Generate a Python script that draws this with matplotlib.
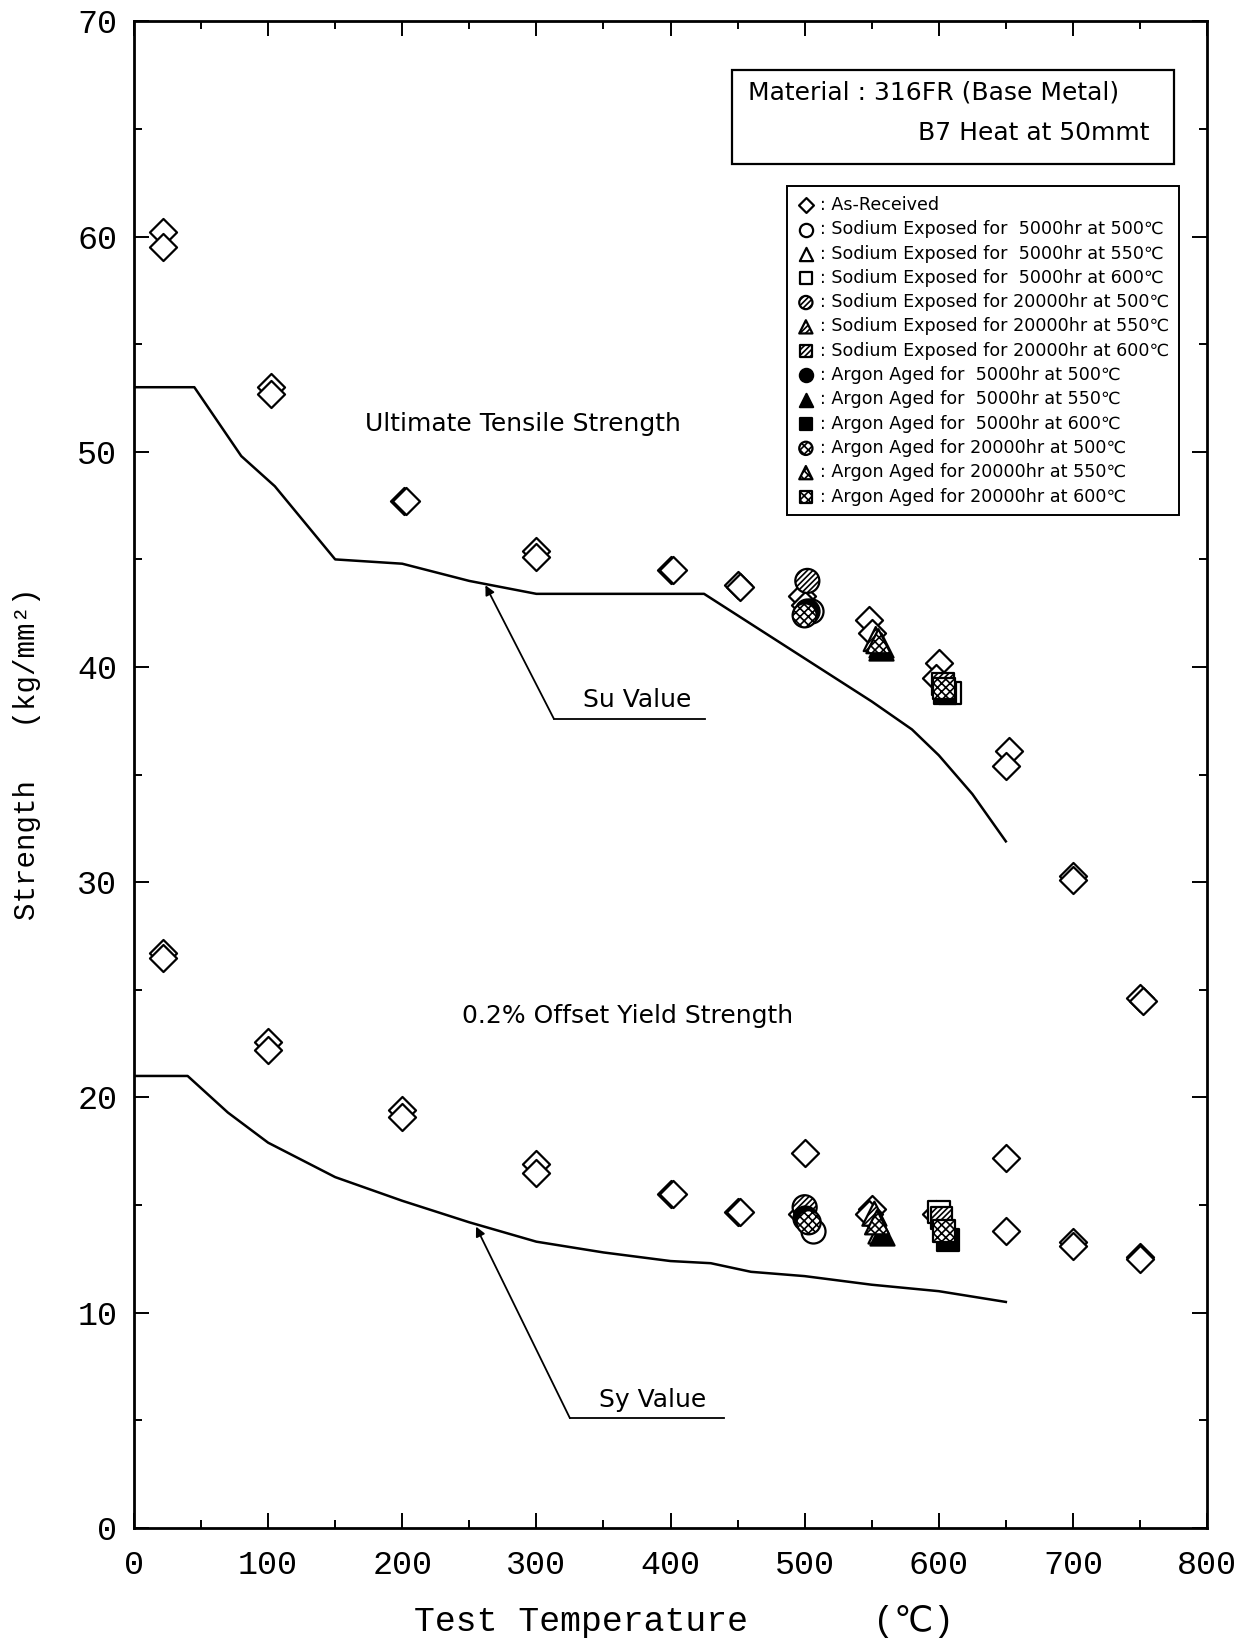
import matplotlib
matplotlib.use("Agg")
import matplotlib.pyplot as plt
from matplotlib.ticker import MultipleLocator

# ── Daten ────────────────────────────────────────────
# As-Received, Zugfestigkeit (UTS)
ar_uts_x = [22, 22, 102, 102, 201, 203, 300, 300, 400, 402, 450, 452,
            498, 500, 548, 550, 600, 598, 652, 650, 700, 700, 750, 752]
ar_uts_y = [60.2, 59.5, 53.0, 52.7, 47.7, 47.7, 45.4, 45.1, 44.5, 44.5, 43.8, 43.7,
            43.3, 42.9, 42.2, 41.6, 40.2, 39.5, 36.1, 35.4, 30.3, 30.1, 24.6, 24.5]
# As-Received, 0.2% Dehngrenze
ar_ys_x = [22, 22, 100, 100, 200, 200, 300, 300, 400, 402, 450, 452,
           500, 498, 550, 548, 598, 650, 650, 700, 700, 750, 750]
ar_ys_y = [26.7, 26.5, 22.6, 22.2, 19.4, 19.1, 16.9, 16.5, 15.5, 15.5, 14.7, 14.7,
           17.4, 14.6, 14.8, 14.6, 14.6, 17.2, 13.8, 13.3, 13.1, 12.6, 12.5]

# Ausgelagerte Proben (je UTS + YS)
na5_500_x, na5_500_y = [505, 506], [42.6, 13.8]
na5_550_x, na5_550_y = [557, 556], [41.0, 13.8]
na5_600_x, na5_600_y = [608, 600], [38.8, 14.7]
na20_500_x, na20_500_y = [502, 500], [44.0, 14.9]
na20_550_x, na20_550_y = [553, 552], [41.3, 14.6]
na20_600_x, na20_600_y = [603, 602], [39.2, 14.4]
ar5_500_x, ar5_500_y = [502, 500], [42.6, 14.4]
ar5_550_x, ar5_550_y = [557, 558], [40.9, 13.7]
ar5_600_x, ar5_600_y = [605, 607], [38.8, 13.4]
ar20_500_x, ar20_500_y = [500, 503], [42.4, 14.2]
ar20_550_x, ar20_550_y = [555, 554], [41.2, 14.2]
ar20_600_x, ar20_600_y = [604, 604], [39.0, 13.8]

# Auslegungskurven
su_x = [0, 45, 80, 105, 150, 200, 250, 300, 425, 500, 550, 580, 600, 625, 650]
su_y = [53.0, 53.0, 49.8, 48.4, 45.0, 44.8, 44.0, 43.4, 43.4, 40.4, 38.4, 37.1, 35.9, 34.1, 31.9]
sy_x = [0, 40, 70, 100, 150, 200, 250, 300, 350, 400, 430, 460, 500, 550, 600, 650]
sy_y = [21.0, 21.0, 19.3, 17.9, 16.3, 15.2, 14.2, 13.3, 12.8, 12.4, 12.3, 11.9, 11.7, 11.3, 11.0, 10.5]

labels = [": As-Received",
          ": Sodium Exposed for  5000hr at 500\u2103",
          ": Sodium Exposed for  5000hr at 550\u2103",
          ": Sodium Exposed for  5000hr at 600\u2103",
          ": Sodium Exposed for 20000hr at 500\u2103",
          ": Sodium Exposed for 20000hr at 550\u2103",
          ": Sodium Exposed for 20000hr at 600\u2103",
          ": Argon Aged for  5000hr at 500\u2103",
          ": Argon Aged for  5000hr at 550\u2103",
          ": Argon Aged for  5000hr at 600\u2103",
          ": Argon Aged for 20000hr at 500\u2103",
          ": Argon Aged for 20000hr at 550\u2103",
          ": Argon Aged for 20000hr at 600\u2103"]

sans = ["DejaVu Sans"]
mono = ["Liberation Mono", "DejaVu Sans"]
plt.rcParams["hatch.linewidth"] = 1.2

fig = plt.figure(figsize=(12.44, 16.41), dpi=100)
ax = fig.add_axes([0.1077, 0.0689, 0.8626, 0.9181])

# ── Kurven ──
ax.plot(su_x, su_y, color="black", linewidth=1.8)
ax.plot(sy_x, sy_y, color="black", linewidth=1.8)

# ── Messpunkte ──
handles = []
h = ax.scatter(ar_uts_x + ar_ys_x, ar_uts_y + ar_ys_y, marker="D", s=190,
               facecolor="white", edgecolor="black", linewidths=1.6, zorder=3)
handles.append(h)

sets = [
    (na5_500_x, na5_500_y, "o", "white", None, 300),
    (na5_550_x, na5_550_y, "^", "white", None, 300),
    (na5_600_x, na5_600_y, "s", "white", None, 240),
    (na20_500_x, na20_500_y, "o", "white", "//////", 300),
    (na20_550_x, na20_550_y, "^", "white", "//////", 300),
    (na20_600_x, na20_600_y, "s", "white", "//////", 240),
    (ar5_500_x, ar5_500_y, "o", "black", None, 300),
    (ar5_550_x, ar5_550_y, "^", "black", None, 300),
    (ar5_600_x, ar5_600_y, "s", "black", None, 240),
    (ar20_500_x, ar20_500_y, "o", "white", "xxxx", 300),
    (ar20_550_x, ar20_550_y, "^", "white", "xxxx", 300),
    (ar20_600_x, ar20_600_y, "s", "white", "xxxx", 240),
]
for xs, ys, m, fc, hatch, s in sets:
    h = ax.scatter(xs, ys, marker=m, s=s, facecolor=fc, edgecolor="black",
                   hatch=hatch, linewidths=1.6, zorder=4)
    handles.append(h)

# ── Beschriftungen im Diagramm ──
ax.text(290, 51.3, "Ultimate Tensile Strength", ha="center", va="center",
        fontsize=18, family=sans)
ax.text(368, 23.8, "0.2% Offset Yield Strength", ha="center", va="center",
        fontsize=18, family=sans)

ax.plot([313, 426], [37.6, 37.6], color="black", linewidth=1.3)
ax.annotate("", xy=(262, 43.8), xytext=(313, 37.6),
            arrowprops=dict(arrowstyle="-|>", color="black", lw=1.3,
                            mutation_scale=14, shrinkA=0, shrinkB=0))
ax.text(375, 37.9, "Su Value", ha="center", va="bottom", fontsize=18, family=sans)

ax.plot([325, 440], [5.1, 5.1], color="black", linewidth=1.3)
ax.annotate("", xy=(255, 14.0), xytext=(325, 5.1),
            arrowprops=dict(arrowstyle="-|>", color="black", lw=1.3,
                            mutation_scale=14, shrinkA=0, shrinkB=0))
ax.text(387, 5.4, "Sy Value", ha="center", va="bottom", fontsize=18, family=sans)

# Material-Box
ax.text(0.572, 0.953, "Material : 316FR (Base Metal)", transform=ax.transAxes,
        fontsize=18, family=sans, va="center", ha="left")
ax.text(0.946, 0.926, "B7 Heat at 50mmt", transform=ax.transAxes,
        fontsize=18, family=sans, va="center", ha="right")
ax.add_patch(plt.Rectangle((0.557, 0.905), 0.412, 0.063, transform=ax.transAxes,
                           fill=False, edgecolor="black", linewidth=1.6))

# Legende
leg = ax.legend(handles, labels, loc="upper left", bbox_to_anchor=(0.609, 0.8905),
                borderaxespad=0, frameon=True, fancybox=False, edgecolor="black",
                framealpha=1, markerscale=0.55, scatterpoints=1, handletextpad=0.3,
                handlelength=1.0, labelspacing=0.36, borderpad=0.55,
                prop={"family": sans, "size": 12.6})
leg.get_frame().set_linewidth(1.4)

# ── Achsen ──
ax.set_xlim(0, 800)
ax.set_ylim(0, 70)
ax.xaxis.set_major_locator(MultipleLocator(100))
ax.xaxis.set_minor_locator(MultipleLocator(50))
ax.yaxis.set_major_locator(MultipleLocator(10))
ax.yaxis.set_minor_locator(MultipleLocator(5))
ax.tick_params(which="both", direction="in", top=True, right=True, width=1.4)
ax.tick_params(which="major", length=11, labelsize=24)
ax.tick_params(axis="x", which="major", pad=16)
ax.tick_params(axis="y", which="major", pad=12)
ax.tick_params(which="minor", length=6)
for lab in ax.get_xticklabels() + ax.get_yticklabels():
    lab.set_family(mono)
for sp in ax.spines.values():
    sp.set_linewidth(2.0)

ax.set_xlabel("Test Temperature      (\u2103)", fontsize=25, family=mono, va="center")
ax.xaxis.set_label_coords(0.513, -0.062)
ax.set_ylabel("Strength   (kg/mm\u00b2)", fontsize=21, family=mono, va="center")
ax.yaxis.set_label_coords(-0.100, 0.514)

fig.savefig("out.png", dpi=100)
